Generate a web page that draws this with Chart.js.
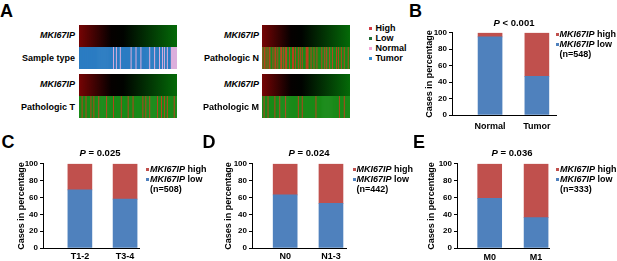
<!DOCTYPE html>
<html>
<head>
<meta charset="utf-8">
<script src="https://cdn.jsdelivr.net/npm/chart.js@4.4.1/dist/chart.umd.min.js"></script>
<style>
  html, body { margin: 0; padding: 0; background: #fff; }
  #fig { position: relative; width: 617px; height: 261px; overflow: hidden;
         font-family: Arial, "Liberation Sans", sans-serif; font-weight: bold; color: #000; }
  #fig canvas { position: absolute; }
  .t { position: absolute; white-space: nowrap; line-height: 1; font-size: 9px; }
  .sq { position: absolute; width: 3px; height: 3px; }
</style>
</head>
<body>
<div id="fig">
  <!-- panel A heatmap strips -->
  <canvas id="gA1" width="98" height="22" style="left:79px;top:25px"></canvas>
  <canvas id="sType" width="98" height="22" style="left:79px;top:47px"></canvas>
  <canvas id="gA2" width="98" height="22" style="left:79px;top:74px"></canvas>
  <canvas id="sT" width="98" height="22" style="left:79px;top:96px"></canvas>
  <canvas id="gA3" width="88" height="22" style="left:262px;top:25px"></canvas>
  <canvas id="sN" width="88" height="22" style="left:262px;top:47px"></canvas>
  <canvas id="gA4" width="88" height="22" style="left:262px;top:74px"></canvas>
  <canvas id="sM" width="88" height="22" style="left:262px;top:96px"></canvas>
  <!-- bar panels -->
  <canvas id="chB" width="140" height="107" style="left:417px;top:26px"></canvas>
  <canvas id="chC" width="132" height="109" style="left:8px;top:157px"></canvas>
  <canvas id="chD" width="130" height="109" style="left:217px;top:157px"></canvas>
  <canvas id="chE" width="128" height="109" style="left:422px;top:157px"></canvas>
</div>
<script>
// heatmap annotation codes (T = tumor, N = normal, H = high, L = low)
const sampleType = ("TTTTTTTTTT" + "TTTTTTTTTT" + "TTTTTTTTTT" + "TTTTTNTTNT" + "TTNTTTTTTT" +
                    "TTTNTTTTNT" + "TTTNTTTTTT" + "TTNTTTTNTT" + "TTNTTNTNTT" + "NTTTNNNNNN").split("")
const pathT = ("LLLHLLLHLL" + "LLHLLHLLLL" + "HLLLLLLLHL" + "LLLLLHLLLL" + "LLLHLLLLLL" +
               "HLLLLHLLLL" + "LLLLLHLLHL" + "LLHLLLLLLL" + "HLLLHLLHLL" + "HLLLLLLHLL").split("")
const pathN = ("HLHHLHLHHL" + "LHLHHLHLLH" + "HLHLHHLLHL" + "LHHLHLLHLH" + "LHLLLHHHLL" +
               "HLLHLLHLLL" + "LHLLHLHLLH" + "LLHLLLHLHL" + "LHLLHLLLHL").split("")
const pathM = ("LLHLLLHLLL" + "LLLHLLLLHL" + "LLLLHLLLLL" + "LLLLLLLHLL" + "LHLLLLLLLL" +
               "LLLLLHLLLL" + "LLLLLLLLLL" + "LLLLLLLLLH" + "LLLLHLLLLL").split("")

// bar panels: categories and % of low / high cases
const catB = ["Normal", "Tumor"]
const lowB = [95, 47]
const highB = [5, 53]

const catC = ["T1-2", "T3-4"]
const lowC = [69, 58]
const highC = [31, 42]

const catD = ["N0", "N1-3"]
const lowD = [63, 53]
const highD = [37, 47]

const catE = ["M0", "M1"]
const lowE = [59, 36]
const highE = [41, 64]

const colCodes = { T: "#2b7cc2", N: "#dcaedc", H: "#b8421c", L: "#198a18" }
const colLow = "#4f81bd"
const colHigh = "#c0504d"

Chart.defaults.font.family = 'Arial, "Liberation Sans", sans-serif'
Chart.defaults.color = "#000"

const noFrills = {
  responsive: false,
  animation: false,
  events: [],
  plugins: { legend: { display: false }, tooltip: { enabled: false } },
}

// expression gradient strip: one bar filled red -> black -> green
function gradiente(id) {
  new Chart(document.getElementById(id), {
    type: "bar",
    data: {
      labels: ["MKI67IP"],
      datasets: [{
        data: [1],
        barPercentage: 1,
        categoryPercentage: 1,
        backgroundColor: (ctx) => {
          const a = ctx.chart.chartArea
          if (!a) return "#000"
          const g = ctx.chart.ctx.createLinearGradient(a.left, 0, a.right, 0)
          g.addColorStop(0, "#760404")
          g.addColorStop(0.33, "#050000")
          g.addColorStop(0.45, "#000300")
          g.addColorStop(1, "#046a08")
          return g
        }
      }]
    },
    options: { ...noFrills, layout: { padding: 0 },
      scales: { x: { display: false }, y: { display: false, min: 0, max: 1 } } }
  })
}

// annotation strip, one thin bar per sample
function franja(id, codes) {
  new Chart(document.getElementById(id), {
    type: "bar",
    data: {
      labels: codes.map((c, i) => i),
      datasets: [{
        data: codes.map(() => 1),
        backgroundColor: codes.map(c => colCodes[c]),
        barPercentage: 1,
        categoryPercentage: 1,
        borderWidth: 0
      }]
    },
    options: { ...noFrills, layout: { padding: 0 },
      scales: { x: { display: false }, y: { display: false, min: 0, max: 1 } } }
  })
}

gradiente("gA1"); gradiente("gA2"); gradiente("gA3"); gradiente("gA4")
franja("sType", sampleType)
franja("sT", pathT)
franja("sN", pathN)
franja("sM", pathM)

// stacked percentage bars
function barras(id, cats, low, high, o) {
  new Chart(document.getElementById(id), {
    type: "bar",
    data: {
      datasets: [
        { label: "low", data: cats.map((c, i) => ({ x: i + 1, y: low[i] })),
          backgroundColor: colLow, barThickness: 24 },
        { label: "high", data: cats.map((c, i) => ({ x: i + 1, y: high[i] })),
          backgroundColor: colHigh, barThickness: 24 }
      ]
    },
    options: {
      ...noFrills,
      layout: { padding: { top: 6, right: 0, left: 0, bottom: 0 } },
      scales: {
        x: {
          type: "linear", min: o.xmin, max: o.xmax, stacked: true, offset: false,
          grid: { display: false, drawTicks: false, offset: false },
          border: { display: true, color: "#000", width: 1 },
          afterBuildTicks: (s) => { s.ticks = cats.map((c, i) => ({ value: i + 1 })) },
          afterFit: (s) => { s.height = 18 },
          ticks: { padding: o.xpad, font: { size: 9, weight: "bold" },
                   callback: (v) => cats[v - 1] }
        },
        y: {
          stacked: true, min: 0, max: 100,
          afterFit: (s) => { s.width = 35 },
          grid: { drawOnChartArea: false, drawTicks: true, tickLength: 3, color: "#000" },
          border: { display: true, color: "#000", width: 1 },
          ticks: { stepSize: 20, padding: 2, font: { size: 8, weight: "bold" } },
          title: { display: true, text: "Cases in percentage",
                   font: { size: 9, weight: "bold" }, padding: { top: o.tpad, bottom: 0 } }
        }
      }
    }
  })
}

barras("chB", catB, lowB, highB, { xmin: 0.187, xmax: 2.43, xpad: 6.2, tpad: 7.6 })
barras("chC", catC, lowC, highC, { xmin: 0.184, xmax: 2.33, xpad: 3.5, tpad: 8.3 })
barras("chD", catD, lowD, highD, { xmin: 0.276, xmax: 2.35, xpad: 3.5, tpad: 5.9 })
barras("chE", catE, lowE, highE, { xmin: 0.295, xmax: 2.3, xpad: 4.1, tpad: 4.3 })

// text on the figure
const fig = document.getElementById("fig")
function txt(html, x, y, align, size) {
  const d = document.createElement("div")
  d.className = "t"
  d.innerHTML = html
  size = size || 9
  d.style.fontSize = size + "px"
  d.style.left = x + "px"
  d.style.top = (y - size / 2) + "px"
  if (align === "r") d.style.transform = "translateX(-100%)"
  if (align === "c") d.style.transform = "translateX(-50%)"
  fig.appendChild(d)
}
function cuadro(x, y, color) {
  const d = document.createElement("div")
  d.className = "sq"
  d.style.left = x + "px"
  d.style.top = (y - 1.5) + "px"
  d.style.background = color
  fig.appendChild(d)
}

// panel letters
txt("A", 0, 11, "l", 18)
txt("B", 409, 11, "l", 18)
txt("C", 1.5, 141.5, "l", 18)
txt("D", 202.5, 141.5, "l", 18)
txt("E", 413, 141.5, "l", 18)

// panel A row labels
txt("<i>MKI67IP</i>", 75, 35, "r")
txt("Sample type", 75, 58, "r")
txt("<i>MKI67IP</i>", 75, 84.5, "r")
txt("Pathologic T", 75, 107.5, "r")
txt("<i>MKI67IP</i>", 259, 35, "r")
txt("Pathologic N", 259, 58, "r")
txt("<i>MKI67IP</i>", 259, 84.5, "r")
txt("Pathologic M", 259, 107.5, "r")

// panel A legend
const leyA = [["High", "#cf3b44"], ["Low", "#1d6b34"], ["Normal", "#f2a7d5"], ["Tumor", "#338bd0"]]
leyA.forEach((l, i) => {
  cuadro(369, 28.5 + i * 10, l[1])
  txt(l[0], 375.5, 28.5 + i * 10, "l")
})

// bar panel titles and legends
function leyenda(x, y, n) {
  cuadro(x, y, colHigh)
  txt("<i>MKI67IP</i> high", x + 4, y, "l")
  cuadro(x, y + 10, colLow)
  txt("<i>MKI67IP</i> low", x + 4, y + 10, "l")
  txt("(n=" + n + ")", x + 4, y + 20, "l")
}
txt("<i>P</i> &lt; 0.001", 514, 23, "c", 9.5)
txt("<i>P</i> = 0.025", 100, 153, "c", 9.5)
txt("<i>P</i> = 0.024", 309, 153, "c", 9.5)
txt("<i>P</i> = 0.036", 512, 153, "c", 9.5)
leyenda(555.5, 34.5, 548)
leyenda(146, 169, 508)
leyenda(352.5, 169, 442)
leyenda(556, 169, 333)
</script>
</body>
</html>
